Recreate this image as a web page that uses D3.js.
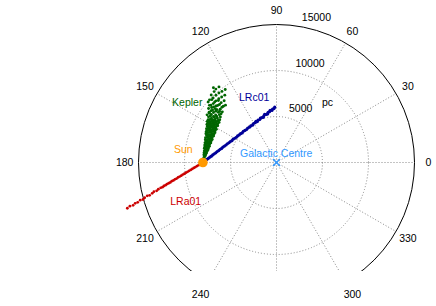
<!DOCTYPE html>
<html>
<head>
<meta charset="utf-8">
<script src="https://cdn.jsdelivr.net/npm/d3@7"></script>
<style>
body { margin: 0; background: #fff; }
svg { display: block; font-family: "Liberation Sans", Arial, Helvetica, sans-serif; font-size: 10.5px; }
</style>
</head>
<body>
<svg></svg>
<script>
// polar grid ticks
const angleTicks = [0, 30, 60, 90, 120, 150, 180, 210, 240, 270, 300, 330]
const ringTicks = [5000, 10000, 15000]

// Sun distance from the Galactic Centre (pc)
const sunDist = 8000

// stars as [galactic longitude (deg), distance from the Sun (pc)]
const kepler = [
	[76, 250], [73, 450], [79, 500], [71, 700], [80, 750], [70, 900], [76, 950], [82, 900],
	[69, 1100], [75, 1150], [83, 1100], [70, 1300], [77, 1350], [83, 1300],
	[68, 1500], [74, 1550], [80, 1500], [84, 1550], [69, 1700], [76, 1750], [83, 1700],
	[68, 1900], [73, 1950], [78, 1900], [84, 1900], [70, 2100], [75, 2150], [80, 2100], [84, 2150],
	[68, 2300], [72, 2350], [77, 2300], [82, 2300], [69, 2500], [74, 2550], [79, 2500], [84, 2500],
	[68, 2700], [72, 2750], [76, 2700], [80, 2750], [84, 2700], [70, 2900], [74, 2950], [78, 2900], [82, 2950],
	[68, 3100], [72, 3150], [76, 3100], [80, 3100], [84, 3150], [69, 3300], [73, 3300], [77, 3350], [81, 3300], [84, 3350],
	[68, 3500], [71, 3550], [74, 3500], [77, 3500], [80, 3550], [83, 3500],
	[69, 3700], [72, 3750], [75, 3700], [78, 3700], [81, 3750], [84, 3700],
	[68, 3900], [71, 3950], [74, 3900], [77, 3950], [80, 3900], [83, 3950],
	[70, 4100], [73, 4150], [76, 4100], [79, 4150], [82, 4100], [84, 4150],
	[68, 4300], [70.5, 4350], [73, 4300], [75.5, 4350], [78, 4300], [80.5, 4350], [83, 4300],
	[69, 4500], [71.5, 4550], [74, 4500], [76.5, 4550], [79, 4500], [81.5, 4550], [84, 4500],
	[68, 4700], [70.5, 4750], [73, 4700], [75.5, 4750], [78, 4700], [80.5, 4750], [83, 4700],
	[70, 4900], [74, 4950], [79, 4900], [83, 5000], [72, 5100], [77, 5150], [81, 5100], [85, 5200],
	[69, 5300], [75, 5350], [80, 5300], [71, 5500], [78, 5550], [83, 5500], [73, 5700], [76, 5750],
	[81, 5700], [69, 5900], [75, 5950], [84, 5900], [72, 6100], [79, 6150], [77, 6300], [82, 6300],
	[70, 6500], [74, 6550], [80, 6500], [85, 6600], [73, 6800], [78, 6850], [82, 6900], [71, 7100],
	[76, 7150], [81, 7100], [74, 7400], [79, 7450], [83, 7400], [72, 7700], [77, 7750], [81, 7800],
	[75, 8000], [80, 8100], [73, 8300], [78, 8400], [82, 8200],
	[68.5, 5000], [76, 5050], [73.5, 5250], [82.5, 5400], [69.5, 5650], [79.5, 5800], [72, 5850],
	[77, 6000], [81, 6050], [83.5, 6250], [71, 6350], [75.5, 6400], [68.5, 6700], [79, 6700], [84, 6850], [76, 6950]
]

const lrc01 = [
	[37.3, 150], [37.1, 350], [37.5, 550], [37.2, 750], [37.4, 950], [37.0, 1150], [37.6, 1350], [37.3, 1550],
	[37.1, 1750], [37.5, 1950], [37.2, 2150], [37.4, 2350], [37.0, 2550], [37.6, 2750], [37.3, 2950], [37.1, 3150],
	[37.5, 3350], [37.2, 3550], [37.4, 3750], [37.0, 3950], [37.6, 4150], [37.3, 4350], [37.1, 4550], [37.5, 4750],
	[37.2, 4950], [37.4, 5150], [37.0, 5350], [37.6, 5550], [37.3, 5750], [37.1, 5950], [37.5, 6150], [37.2, 6350],
	[37.4, 6550], [37.0, 6750], [37.6, 6950], [37.3, 7150], [37.8, 7300], [36.9, 7400], [37.5, 7550], [37.1, 7750],
	[37.7, 7900], [37.3, 8050], [36.8, 8200], [37.5, 8350], [37.9, 8500], [37.2, 8650], [36.9, 8800], [37.6, 8950],
	[37.3, 9100], [37.8, 9250], [37.0, 9400], [37.5, 9550], [37.2, 9700], [37.6, 9850]
]

const lra01 = [
	[211.2, 150], [211.0, 350], [211.4, 550], [211.1, 750], [211.3, 950], [210.9, 1150], [211.4, 1350], [211.2, 1550],
	[211.0, 1750], [211.3, 1950], [211.1, 2150], [211.4, 2350], [210.9, 2550], [211.3, 2750], [211.2, 2950], [211.0, 3150],
	[211.4, 3350], [211.1, 3550], [211.3, 3750], [210.9, 3950], [211.4, 4150], [211.2, 4350], [211.0, 4550], [211.3, 4750],
	[211.1, 4950], [211.4, 5150], [211.0, 5350],
	[211.0, 5650], [211.5, 5900], [210.8, 6200], [211.3, 6450], [211.6, 6800], [210.9, 7050], [211.2, 7400],
	[211.7, 7650], [211.0, 7950], [211.4, 8300], [211.1, 8600], [211.5, 8900], [210.9, 9250], [211.2, 9600]
]

const width = 436
const height = 306

const svg = d3.select("svg")
	.attr("width", width)
	.attr("height", height)

const cx = 276.5
const cy = 162.5

const rScale = d3.scaleLinear()
	.domain([0, 15000])
	.range([0, 138])

const rad = (a) => { return a * Math.PI / 180 }

// heliocentric (l, d) -> screen position, Galactic Centre at the middle
const toXY = (d) => {
	const gx = -sunDist + d[1] * Math.cos(rad(d[0]))
	const gy = d[1] * Math.sin(rad(d[0]))
	return [cx + rScale(gx), cy - rScale(gy)]
}
const pcXY = (x, y) => { return [cx + rScale(x), cy - rScale(y)] }

svg.append("defs")
	.append("clipPath")
	.attr("id", "axclip")
	.append("rect")
	.attr("x", 0)
	.attr("y", 0)
	.attr("width", width)
	.attr("height", cy + 108.5)

const grid = svg.append("g")
	.attr("clip-path", "url(#axclip)")

grid.selectAll("line.spoke")
	.data(angleTicks)
	.enter()
	.append("line")
	.attr("class", "spoke")
	.attr("x1", cx)
	.attr("y1", cy)
	.attr("x2", (d) => { return cx + rScale(15000) * Math.cos(rad(d)) })
	.attr("y2", (d) => { return cy - rScale(15000) * Math.sin(rad(d)) })
	.attr("stroke", "#888")
	.attr("stroke-width", 1)
	.attr("stroke-dasharray", "1,2")

grid.selectAll("circle.ring")
	.data(ringTicks)
	.enter()
	.append("circle")
	.attr("class", "ring")
	.attr("cx", cx)
	.attr("cy", cy)
	.attr("r", (d) => { return rScale(d) })
	.attr("fill", "none")
	.attr("stroke", (d, i) => { return i === ringTicks.length - 1 ? "#000" : "#888" })
	.attr("stroke-width", 1)
	.attr("stroke-dasharray", (d, i) => { return i === ringTicks.length - 1 ? null : "1,2" })

// angle labels at 1.1 * rmax, only those inside the window
const angleY = (d) => { return cy - rScale(15000) * 1.1 * Math.sin(rad(d)) }
svg.selectAll("text.angle")
	.data(angleTicks.filter((d) => { return angleY(d) < height - 6 }))
	.enter()
	.append("text")
	.attr("class", "angle")
	.attr("x", (d) => { return cx + rScale(15000) * 1.1 * Math.cos(rad(d)) })
	.attr("y", angleY)
	.attr("dy", "0.35em")
	.attr("text-anchor", "middle")
	.text((d) => { return d })

// radius labels along 82 degrees
svg.selectAll("text.rlabel")
	.data(ringTicks)
	.enter()
	.append("text")
	.attr("class", "rlabel")
	.attr("x", (d) => { return cx + rScale(d + 250) * Math.cos(rad(82)) + 5.8 })
	.attr("y", (d) => { return cy - rScale(d + 250) * Math.sin(rad(82)) - 2.2 })
	.text((d) => { return d })

const series = [
	{ data: kepler, color: "#006600", r: 1.45 },
	{ data: lrc01, color: "#000099", r: 1.6 },
	{ data: lra01, color: "#cc0000", r: 1.4 }
]

series.forEach((s) => {
	svg.append("g")
		.selectAll("circle")
		.data(s.data)
		.enter()
		.append("circle")
		.attr("cx", (d) => { return toXY(d)[0] })
		.attr("cy", (d) => { return toXY(d)[1] })
		.attr("r", s.r)
		.attr("fill", s.color)
})

// Galactic Centre cross
const gc = pcXY(0, 0)
svg.append("path")
	.attr("d", `M${gc[0] - 3.5},${gc[1] - 3.5}L${gc[0] + 3.5},${gc[1] + 3.5}M${gc[0] - 3.5},${gc[1] + 3.5}L${gc[0] + 3.5},${gc[1] - 3.5}`)
	.attr("stroke", "#3399ff")
	.attr("stroke-width", 1.5)

// Sun
const sun = pcXY(-sunDist, 0)
svg.append("circle")
	.attr("cx", sun[0])
	.attr("cy", sun[1])
	.attr("r", 4.8)
	.attr("fill", "#ff9900")

const addLabel = (txt, x, y, color) => {
	const p = pcXY(x, y)
	svg.append("text")
		.attr("x", p[0])
		.attr("y", p[1])
		.attr("fill", color)
		.text(txt)
}

addLabel("pc", 4950, 6150, "#000")
addLabel("Kepler", -11350, 6150, "#006600")
addLabel("LRc01", -4080, 6700, "#000099")
addLabel("Sun", -11150, 1050, "#ff9900")
addLabel("Galactic Centre", -3970, 600, "#3399ff")
addLabel("LRa01", -11550, -4650, "#cc0000")
</script>
</body>
</html>
